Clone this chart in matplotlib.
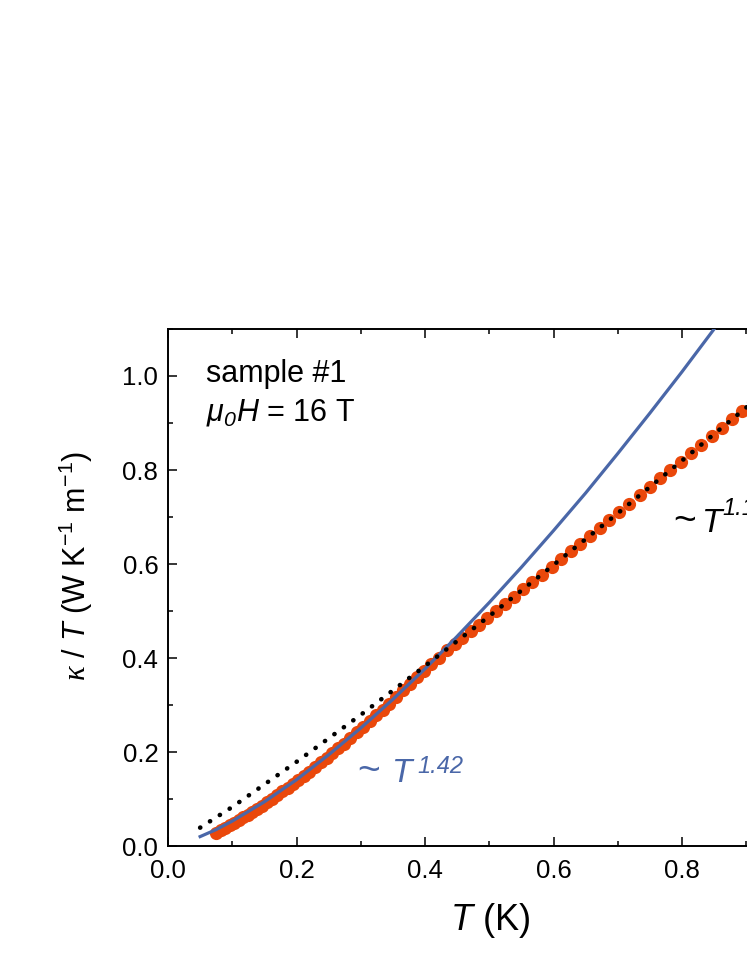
import numpy as np
import matplotlib.pyplot as plt
from matplotlib.ticker import MultipleLocator

plt.rcParams['font.family'] = 'Liberation Sans'
plt.rcParams['mathtext.fontset'] = 'custom'
plt.rcParams['mathtext.rm'] = 'Liberation Sans'
plt.rcParams['mathtext.it'] = 'Liberation Sans:italic'
plt.rcParams['mathtext.sf'] = 'Liberation Sans:italic'   # italic digits
plt.rcParams['mathtext.bf'] = 'Liberation Serif:italic'  # serif kappa

T_data = [0.075, 0.082, 0.089, 0.096, 0.103, 0.110, 0.117, 0.124, 0.131, 0.138,
          0.146, 0.154, 0.162, 0.170, 0.178, 0.186, 0.194, 0.202, 0.211, 0.220,
          0.229, 0.238, 0.247, 0.256, 0.265, 0.274, 0.284, 0.294, 0.304, 0.314,
          0.324, 0.334, 0.344, 0.355, 0.366, 0.377, 0.388, 0.399, 0.410, 0.422,
          0.434, 0.446, 0.458, 0.471, 0.484, 0.497, 0.511, 0.525, 0.539, 0.553,
          0.567, 0.582, 0.597, 0.612, 0.627, 0.642, 0.657, 0.672, 0.687, 0.702,
          0.718, 0.734, 0.750, 0.766, 0.782, 0.798, 0.814, 0.830, 0.846, 0.862,
          0.878, 0.894, 0.910]
kT_data = [0.028, 0.033, 0.038, 0.044, 0.050, 0.055, 0.061, 0.067, 0.073, 0.079,
           0.086, 0.093, 0.101, 0.108, 0.116, 0.124, 0.132, 0.140, 0.149, 0.158,
           0.168, 0.178, 0.188, 0.198, 0.208, 0.218, 0.230, 0.242, 0.254, 0.266,
           0.278, 0.290, 0.303, 0.317, 0.331, 0.345, 0.359, 0.373, 0.387, 0.401,
           0.416, 0.429, 0.443, 0.457, 0.471, 0.485, 0.500, 0.515, 0.530, 0.546,
           0.561, 0.577, 0.594, 0.610, 0.627, 0.643, 0.660, 0.677, 0.693, 0.710,
           0.728, 0.746, 0.764, 0.782, 0.800, 0.818, 0.836, 0.854, 0.872, 0.890,
           0.908, 0.926, 0.945]

# ~T^1.42 fit curve (blue), sampled from the figure
T_fit1 = [0.05, 0.075, 0.10, 0.15, 0.20, 0.25, 0.30, 0.35, 0.40, 0.45,
          0.50, 0.55, 0.60, 0.65, 0.70, 0.75, 0.80, 0.85, 0.90]
kT_fit1 = [0.020, 0.035, 0.053, 0.094, 0.141, 0.194, 0.251, 0.312, 0.377, 0.446,
           0.518, 0.593, 0.671, 0.751, 0.835, 0.921, 1.009, 1.100, 1.193]

# ~T^1.1 fit line (black dotted)
T_fit2 = [0.05, 0.10, 0.20, 0.30, 0.40, 0.50, 0.60, 0.70, 0.80, 0.90, 1.00]
kT_fit2 = [0.039, 0.083, 0.179, 0.279, 0.383, 0.489, 0.598, 0.708, 0.820, 0.933, 1.048]

orange = '#EA480B'
blue = '#4A67A8'

fig = plt.figure(figsize=(7.47, 9.67), dpi=100)
# axes run past the right edge of the figure (the original is cropped)
ax = fig.add_axes([168 / 747, 121 / 967, 642.5 / 747, 517 / 967])

ax.plot(T_data, kT_data, 'o', color=orange, ms=9.5, mec='none', zorder=2)
ax.plot(T_fit1, kT_fit1, '-', color=blue, lw=2.3, zorder=3)
ax.plot(T_fit2, kT_fit2, color='black', lw=3.3, linestyle=(0, (0.05, 2.5)),
        dash_capstyle='round', zorder=4)

ax.set_xlim(0, 1.0)
ax.set_ylim(0, 1.1)
ax.xaxis.set_major_locator(MultipleLocator(0.2))
ax.xaxis.set_minor_locator(MultipleLocator(0.1))
ax.yaxis.set_major_locator(MultipleLocator(0.2))
ax.yaxis.set_minor_locator(MultipleLocator(0.1))
ax.xaxis.set_major_formatter(plt.FuncFormatter(lambda v, p: f'{v:.1f}'))
ax.yaxis.set_major_formatter(plt.FuncFormatter(lambda v, p: f'{v:.1f}'))
ax.tick_params(which='both', direction='in', top=True, right=True, width=1.1)
ax.tick_params(which='major', length=6.5, labelsize=18.5)
ax.tick_params(axis='x', which='major', pad=9.5)
ax.tick_params(axis='y', which='major', pad=7)
ax.tick_params(which='minor', length=3.5)
for s in ax.spines.values():
    s.set_linewidth(1.4)


def px(x, y):
    # pixel position in the 747x967 picture -> data coordinates
    return (x - 168) / 642.5, (846 - y) / 470


ax.set_xlabel('$T$ (K)', fontsize=26)
ax.xaxis.set_label_coords((490 - 168) / 642.5, (846 - 920) / 517)
ax.xaxis.label.set_va('center')
ax.set_ylabel(r'$\mathbf{\kappa}$ / $T$ (W K$^{\mathrm{-1}}$ m$^{\mathrm{-1}}$)', fontsize=22)
ax.yaxis.set_label_coords((76 - 168) / 642.5, (846 - 566) / 517)
ax.yaxis.label.set_va('center')

ax.text(*px(206, 382), 'sample #1', fontsize=22, va='baseline')
ax.text(*px(206, 420), r'$\mu_{\mathsf{0}}H$ = 16 T', fontsize=22, va='baseline')


def power_label(tilde_x, t_x, sup_x, base_y, sup_y, exponent, color, size=24):
    ax.text(*px(tilde_x, base_y), '~', fontsize=28, color=color, va='baseline')
    ax.text(*px(t_x, base_y), 'T', fontsize=size, style='italic', color=color,
            va='baseline')
    ax.text(*px(sup_x, sup_y), exponent, fontsize=17, style='italic', color=color,
            va='baseline')


power_label(357, 392, 417, 782, 773, '1.42', blue)
power_label(673, 702, 722, 532, 515, '1.1', 'black')

plt.savefig('out.png', dpi=100)
